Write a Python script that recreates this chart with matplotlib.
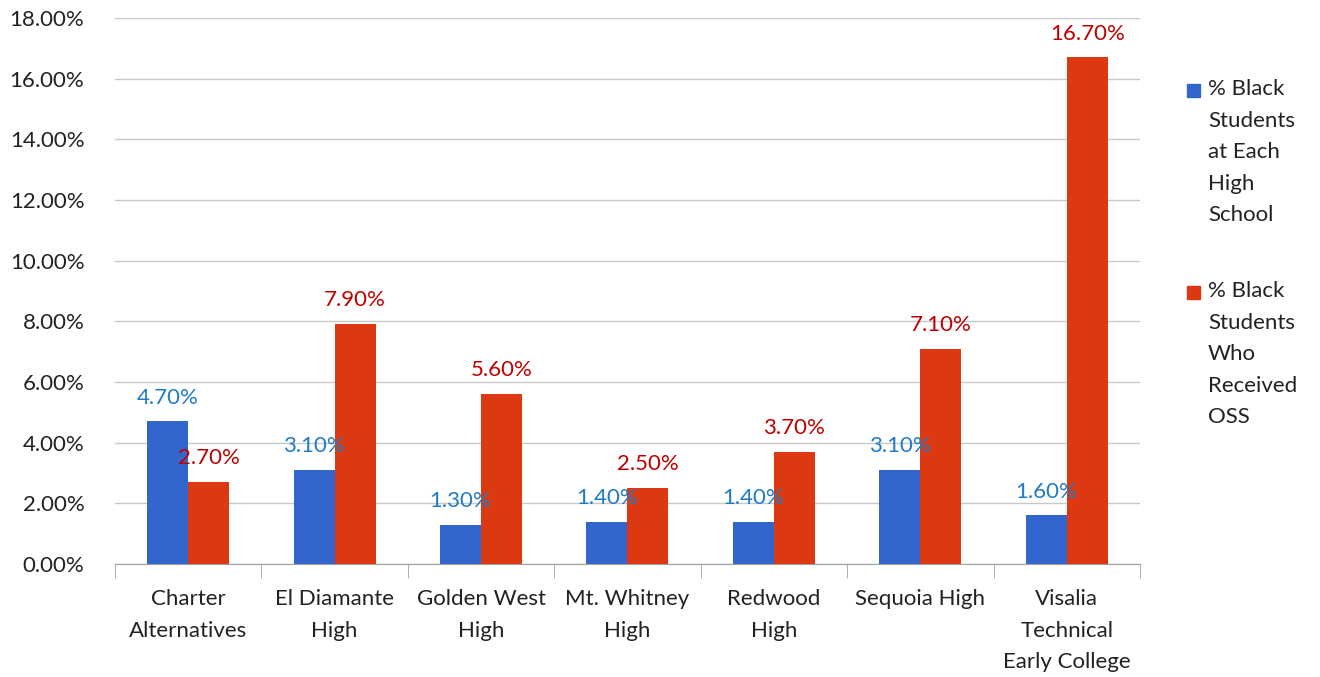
import matplotlib
matplotlib.use("Agg")
import matplotlib.pyplot as plt
import numpy as np
from matplotlib.patches import Rectangle
from matplotlib.ticker import FuncFormatter, MultipleLocator

# ------------------------------------------------------------
# Data
# ------------------------------------------------------------
schools = [
    "Charter\nAlternatives",
    "El Diamante\nHigh",
    "Golden West\nHigh",
    "Mt. Whitney\nHigh",
    "Redwood\nHigh",
    "Sequoia High",
    "Visalia\nTechnical\nEarly College",
]
pct_black_students = [4.70, 3.10, 1.30, 1.40, 1.40, 3.10, 1.60]
pct_black_oss = [2.70, 7.90, 5.60, 2.50, 3.70, 7.10, 16.70]
series_names = [
    "% Black\nStudents\nat Each\nHigh\nSchool",
    "% Black\nStudents\nWho\nReceived\nOSS",
]

BLUE = "#3366CC"
RED = "#DC3912"
BLUE_TXT = "#1F7BC8"
RED_TXT = "#C00000"
TXT = "#222222"
FS = 16
LS = 1.72

plt.rcParams["font.family"] = ["Lato", "DejaVu Sans"]

fig = plt.figure(figsize=(13.2, 6.77), dpi=100)
ax = fig.add_axes([0.0871, 0.1669, 0.7765, 0.8065])

x = np.arange(len(schools))
w = 0.28
b1 = ax.bar(x - w / 2, pct_black_students, w, color=BLUE, zorder=3)
b2 = ax.bar(x + w / 2, pct_black_oss, w, color=RED, zorder=3)

for bars, vals, col in ((b1, pct_black_students, BLUE_TXT), (b2, pct_black_oss, RED_TXT)):
    for bar, v in zip(bars, vals):
        ax.annotate(f"{v:.2f}%", (bar.get_x() + bar.get_width() / 2, v),
                    xytext=(0, 10), textcoords="offset points",
                    ha="center", va="bottom", fontsize=FS, color=col)

ax.set_xlim(-0.5, len(schools) - 0.5)
ax.set_ylim(0, 18)
ax.yaxis.set_major_locator(MultipleLocator(2))
ax.yaxis.set_major_formatter(FuncFormatter(lambda v, _: f"{v:.2f}%"))
ax.grid(axis="y", color="#C8C8C8", linewidth=1, zorder=0)
ax.set_axisbelow(True)

for s in ("top", "right", "left"):
    ax.spines[s].set_visible(False)
ax.spines["bottom"].set_color("#A0A0A0")

ax.tick_params(axis="y", length=0, pad=22, labelsize=FS, labelcolor=TXT)
ax.set_xticks(x)
ax.set_xticklabels(schools, fontsize=FS, color=TXT, linespacing=LS)
ax.tick_params(axis="x", length=0, pad=18)
# category separator ticks
ax.set_xticks(np.arange(-0.5, len(schools)), minor=True)
ax.tick_params(axis="x", which="minor", length=10, color="#A0A0A0")

# legend drawn by hand so the swatch lines up with the first text line
for i, (name, col) in enumerate(zip(series_names, (BLUE, RED))):
    ty = 1 - (79 + i * 202) / 677
    fig.patches.append(Rectangle((1187 / 1320, ty - 18 / 677), 13 / 1320, 13 / 677,
                                 transform=fig.transFigure, color=col))
    fig.text(1208 / 1320, ty, name, fontsize=FS, color=TXT, va="top",
             ha="left", linespacing=LS)

fig.savefig("out.png", dpi=100)
